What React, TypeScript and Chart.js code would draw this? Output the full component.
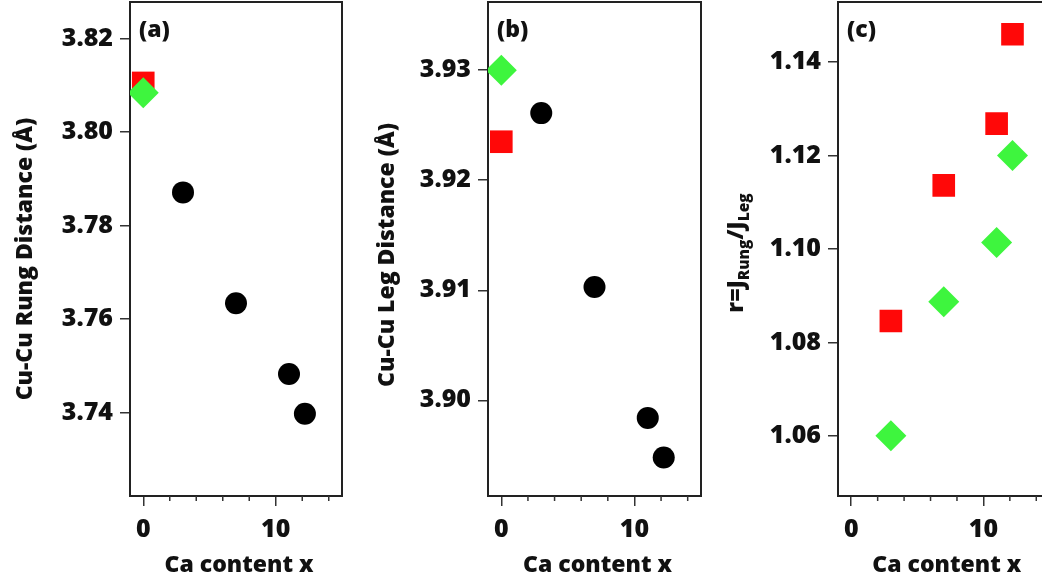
import React, { useEffect, useRef } from 'react';
import { Chart, registerables } from 'chart.js';

Chart.register(...registerables);

// ---------------- data ----------------
const dopedX = [3, 7, 11, 12.2];
const parentX = [0];

const rungDoped = [3.7871, 3.7634, 3.7483, 3.7398];
const rungParentRed = [3.8105];
const rungParentGreen = [3.8084];

const legDoped = [3.9261, 3.9103, 3.8984, 3.8948];
const legParentRed = [3.9235];
const legParentGreen = [3.93];

const ratioRed = [1.0846, 1.1136, 1.1268, 1.1459];
const ratioGreen = [1.0601, 1.0887, 1.1014, 1.12];

const xMajorTicks = [0, 10];
const xMinorTicks = [2, 4, 6, 8, 12, 14];
const rungTicks = [3.74, 3.76, 3.78, 3.8, 3.82];
const legTicks = [3.9, 3.91, 3.92, 3.93];
const ratioTicks = [1.06, 1.08, 1.1, 1.12, 1.14];

const xTitle = 'Ca content x';
const rungTitle = [{ text: 'Cu-Cu Rung Distance (Å)' }];
const legTitle = [{ text: 'Cu-Cu Leg Distance (Å)' }];
const ratioTitle = [
  { text: 'r=J' },
  { text: 'Rung', sub: true },
  { text: '/J' },
  { text: 'Leg', sub: true },
];

// ---------------- styles ----------------
const FONT = '"Open Sans", "DejaVu Sans", sans-serif';
const WEIGHT = 800;
const TEXT = '#111111';
const AXIS = '#333333';
const RED = '#ff0808';
const GREEN = '#3ef53e';
const BLACK = '#000000';
const H = 581;

const zip = (xs: number[], ys: number[]) => xs.map((x, i) => ({ x, y: ys[i] }));

const greenSet = (xs: number[], ys: number[]) => ({
  data: zip(xs, ys),
  pointStyle: 'rectRot',
  pointRadius: 15.5,
  pointHoverRadius: 15.5,
  backgroundColor: GREEN,
  borderColor: GREEN,
  borderWidth: 0,
});
const redSet = (xs: number[], ys: number[]) => ({
  data: zip(xs, ys),
  pointStyle: 'rect',
  pointRadius: 16,
  pointHoverRadius: 16,
  backgroundColor: RED,
  borderColor: RED,
  borderWidth: 0,
});
const blackSet = (xs: number[], ys: number[]) => ({
  data: zip(xs, ys),
  pointStyle: 'circle',
  pointRadius: 11,
  pointHoverRadius: 11,
  backgroundColor: BLACK,
  borderColor: BLACK,
  borderWidth: 0,
});

const decorPlugin = {
  id: 'decor',
  beforeDatasetsDraw(chart: any, _args: any, opts: any) {
    const { ctx, chartArea: a } = chart;
    ctx.save();
    ctx.strokeStyle = '#222222';
    ctx.lineWidth = 2;
    ctx.strokeRect(a.left, a.top, a.right - a.left, a.bottom - a.top);
    const xs = chart.scales.x;
    ctx.strokeStyle = AXIS;
    ctx.lineWidth = 1.5;
    for (const v of opts.minor || []) {
      const px = xs.getPixelForValue(v);
      ctx.beginPath();
      ctx.moveTo(px, a.bottom);
      ctx.lineTo(px, a.bottom + 5);
      ctx.stroke();
    }
    ctx.restore();
  },
  afterDraw(chart: any, _args: any, opts: any) {
    const { ctx, chartArea: a } = chart;
    ctx.save();
    ctx.fillStyle = TEXT;
    ctx.textAlign = 'left';
    ctx.textBaseline = 'alphabetic';
    ctx.font = `${WEIGHT} 23px ${FONT}`;
    ctx.fillText(opts.letter, a.left + 9, a.top + 34.5);

    // x-axis title
    ctx.textAlign = 'center';
    ctx.font = `${WEIGHT} 23px ${FONT}`;
    ctx.fillText(xTitle, (a.left + a.right) / 2 + opts.xTitleShift, 571.5);
    ctx.textAlign = 'left';

    const segs = opts.title || [];
    const mainFont = `${WEIGHT} 23px ${FONT}`;
    const subFont = `${WEIGHT} 15.5px ${FONT}`;
    const widths = segs.map((s: any) => {
      ctx.font = s.sub ? subFont : mainFont;
      return ctx.measureText(s.text).width;
    });
    const total = widths.reduce((p: number, c: number) => p + c, 0);
    ctx.translate(opts.titleX, (a.top + a.bottom) / 2 + opts.titleShift);
    ctx.rotate(-Math.PI / 2);
    let x = -total / 2;
    segs.forEach((s: any, i: number) => {
      ctx.font = s.sub ? subFont : mainFont;
      ctx.fillText(s.text, x, s.sub ? 8.5 + 6 : 8.5);
      x += widths[i];
    });
    ctx.restore();
  },
};

type PanelProps = {
  left: number;
  width: number;
  yAxisWidth: number;
  padRight: number;
  yMin: number;
  yMax: number;
  yTicks: number[];
  datasets: any[];
  letter: string;
  title: any[];
  titleX: number;
  titleShift: number;
};

function Panel(p: PanelProps) {
  const ref = useRef<HTMLCanvasElement>(null);
  useEffect(() => {
    const chart = new Chart(ref.current as HTMLCanvasElement, {
      type: 'scatter',
      data: { datasets: p.datasets },
      options: {
        responsive: false,
        animation: false,
        devicePixelRatio: 1,
        layout: {
          autoPadding: false,
          padding: { left: 0, right: p.padRight, top: 2, bottom: 0 },
        },
        plugins: {
          legend: { display: false },
          tooltip: { enabled: false },
          decor: {
            letter: p.letter,
            title: p.title,
            titleX: p.titleX,
            titleShift: p.titleShift,
            xTitleShift: 3,
            minor: xMinorTicks,
          },
        } as any,
        scales: {
          x: {
            type: 'linear',
            min: -1,
            max: 15,
            afterBuildTicks: (s: any) => {
              s.ticks = xMajorTicks.map((v) => ({ value: v }));
            },
            afterFit: (s: any) => {
              s.height = 85;
              s.paddingLeft = 0;
              s.paddingRight = 0;
            },
            grid: {
              drawOnChartArea: false,
              drawTicks: true,
              tickLength: 10,
              color: AXIS,
              lineWidth: 1.5,
            },
            border: { display: false },
            ticks: {
              color: TEXT,
              padding: 9,
              maxRotation: 0,
              font: { family: FONT, size: 25, weight: WEIGHT },
              callback: (v: any) => String(v),
            },
            title: { display: false },
          },
          y: {
            type: 'linear',
            min: p.yMin,
            max: p.yMax,
            afterBuildTicks: (s: any) => {
              s.ticks = p.yTicks.map((v) => ({ value: v }));
            },
            afterFit: (s: any) => {
              s.width = p.yAxisWidth;
              s.paddingTop = 0;
              s.paddingBottom = 0;
            },
            grid: {
              drawOnChartArea: false,
              drawTicks: true,
              tickLength: 10,
              color: AXIS,
              lineWidth: 1.5,
            },
            border: { display: false },
            ticks: {
              color: TEXT,
              padding: 7,
              font: { family: FONT, size: 25, weight: WEIGHT },
              callback: (v: any) => Number(v).toFixed(2),
            },
          },
        },
      } as any,
      plugins: [decorPlugin as any],
    });
    return () => chart.destroy();
  }, []);
  return (
    <canvas
      ref={ref}
      width={p.width}
      height={H}
      style={{ position: 'absolute', left: p.left, top: 0, width: p.width, height: H }}
    />
  );
}

export default function App() {
  return (
    <div
      style={{
        position: 'fixed',
        left: 0,
        top: 0,
        width: 1042,
        height: H,
        overflow: 'hidden',
        background: '#ffffff',
      }}
    >
      <Panel
        left={0}
        width={350}
        yAxisWidth={130}
        padRight={8}
        yMin={3.7222}
        yMax={3.8278}
        yTicks={rungTicks}
        datasets={[
          greenSet(parentX, rungParentGreen),
          redSet(parentX, rungParentRed),
          blackSet(dopedX, rungDoped),
        ]}
        letter="(a)"
        title={rungTitle}
        titleX={23}
        titleShift={10}
      />
      <Panel
        left={350}
        width={352}
        yAxisWidth={138}
        padRight={1}
        yMin={3.8913}
        yMax={3.9362}
        yTicks={legTicks}
        datasets={[
          greenSet(parentX, legParentGreen),
          redSet(parentX, legParentRed),
          blackSet(dopedX, legDoped),
        ]}
        letter="(b)"
        title={legTitle}
        titleX={35}
        titleShift={6}
      />
      <Panel
        left={700}
        width={360}
        yAxisWidth={138}
        padRight={10.5}
        yMin={1.0472}
        yMax={1.1528}
        yTicks={ratioTicks}
        datasets={[greenSet(dopedX, ratioGreen), redSet(dopedX, ratioRed)]}
        letter="(c)"
        title={ratioTitle}
        titleX={34.5}
        titleShift={4}
      />
    </div>
  );
}
